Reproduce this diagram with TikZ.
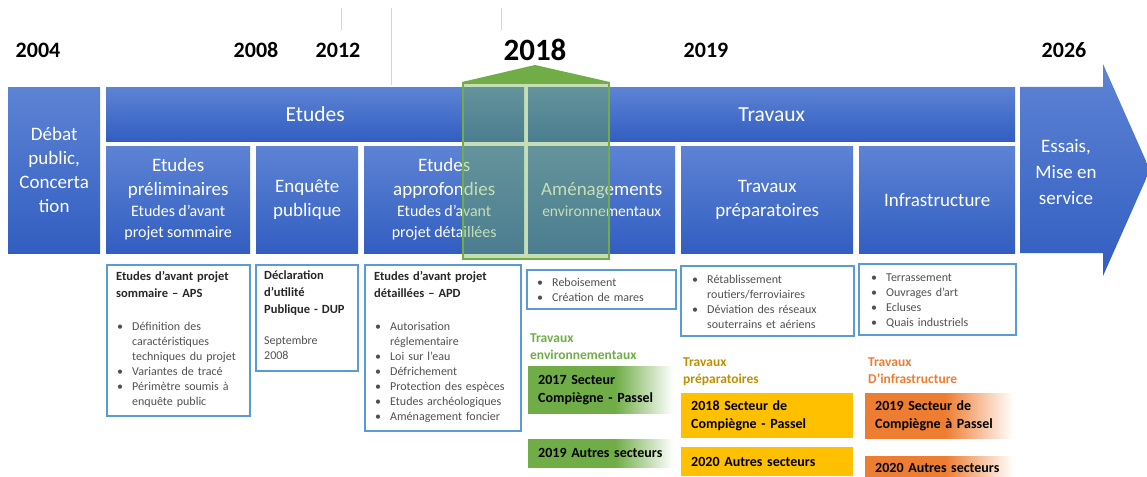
\documentclass[tikz,border=0pt]{standalone}
\usepackage{fontspec}
\setmainfont{Carlito}
\usepackage{tikz}
\usetikzlibrary{positioning}

\definecolor{bartop}{RGB}{93,131,212}
\definecolor{barbot}{RGB}{50,94,193}
\definecolor{frameblue}{RGB}{91,155,213}
\definecolor{vert}{RGB}{112,173,71}
\definecolor{jaune}{RGB}{255,192,0}
\definecolor{ocre}{RGB}{191,143,0}
\definecolor{orangefonce}{RGB}{237,125,49}
\definecolor{texte}{RGB}{80,80,80}
\definecolor{titre}{RGB}{38,38,38}
\definecolor{lignebleue}{RGB}{200,215,238}

% degrades des blocs de travaux
\pgfdeclarehorizontalshading{fondu-vert}{100bp}{color(0bp)=(vert); color(25bp)=(vert); color(55bp)=(vert); color(75bp)=(white); color(100bp)=(white)}
\pgfdeclarehorizontalshading{fondu-orange}{100bp}{color(0bp)=(orangefonce); color(25bp)=(orangefonce); color(52bp)=(orangefonce); color(75bp)=(white); color(100bp)=(white)}

\newcommand{\sz}[2]{\fontsize{#1pt}{#2pt}\selectfont}
\newcommand{\entete}[1]{{\bfseries\color{titre}\sz{12.5}{17}#1\par}}
\newcommand{\puce}[1]{\hangindent=16pt\hangafter=1\noindent\hbox to 16pt{\hspace{1pt}\textbullet\hfil}#1\par}

\begin{document}
\begin{tikzpicture}[x=1pt, y=-1pt,
    annee/.style={font=\bfseries\sz{22}{26}},
    bleu/.style={anchor=north west, inner sep=0pt, align=center, text=white,
      top color=bartop, bottom color=barbot},
    cadre/.style={anchor=north west, draw=frameblue, line width=1.5pt, inner sep=0pt},
    liste/.style={inner sep=0pt, align=left, text=texte, font=\sz{12}{15}},
    etiquette/.style={anchor=north west, inner sep=0pt, align=left, font=\bfseries\sz{13.5}{17}},
    bloc/.style={anchor=north west, inner xsep=10pt, inner ysep=0pt, align=left,
      font=\bfseries\sz{14}{18}},
    trait/.style={draw=lignebleue, line width=0.8pt}]
    \useasboundingbox (0,0) rectangle (1147,476);

    % annees
    \foreach \x/\an in {38/2004, 256/2008, 338/2012, 706/2019, 1064/2026} {
        \node[annee] (an\an) at (\x,50) {\an};
    };
    \node[font=\bfseries\sz{31}{34}] (an2018) at (535,50) {2018};
    \foreach \x/\y in {341/30, 391/85, 501/30} {
        \draw[trait] (\x,8) -- (\x,\y);
    };

    % frise
    \node[bleu, text width=92pt, minimum height=166pt, font=\sz{19}{24}] (debat) at (8,87)
        {Débat\\public,\\Concerta\\tion};
    \node[bleu, text width=418pt, minimum height=54pt, font=\sz{21.5}{24}] (etudes) at (106,87) {Etudes};
    \node[bleu, text width=487pt, minimum height=54pt, font=\sz{21.5}{24}] (travaux) at (528,87) {Travaux};

    \node[bleu, text width=144pt, minimum height=107pt] (prelim) at (106,146)
        {{\sz{19}{24}Etudes\\préliminaires\par}{\sz{16}{21}Etudes d’avant\\projet sommaire\par}};
    \node[bleu, text width=102pt, minimum height=107pt, font=\sz{19}{24}] (enquete) at (256,146)
        {Enquête\\publique};
    \node[bleu, text width=160pt, minimum height=107pt] (approf) at (364,146)
        {{\sz{19}{24}Etudes\\approfondies\par}{\sz{16}{21}Etudes d’avant\\projet détaillées\par}};
    \node[bleu, text width=147pt, minimum height=107pt] (amenag) at (528,146)
        {{\sz{19}{22}Aménagements\par}{\sz{15.5}{21}environnementaux\par}};
    \node[bleu, text width=172pt, minimum height=107pt, font=\sz{19}{24}] (prepa) at (681,146)
        {Travaux\\préparatoires};
    \node[bleu, text width=156pt, minimum height=107pt, font=\sz{19}{24}] (infra) at (859,146)
        {Infrastructure};

    \shade[top color=bartop, bottom color=barbot] (1020,87) -- (1103,87) -- (1103,64)
        -- (1150,170) -- (1103,276) -- (1103,253) -- (1020,253) -- cycle;
    \node[text=white, align=center, font=\sz{19}{26}] (essais) at (1066,172) {Essais,\\Mise en\\service};

    % zoom sur 2018
    \node[anchor=north west, draw=vert, line width=1.8pt, fill=vert, fill opacity=0.4,
        minimum width=146pt, minimum height=176pt, inner sep=0pt] (focus) at (462,82) {};
    \fill[vert] (focus.north west) -- (an2018.south |- 0,65) -- (focus.north east) -- cycle;

    % details des etapes
    \node[cadre, minimum width=143pt, minimum height=151pt] (aps) at (106,264) {};
    \node[liste, text width=123pt, below right=7pt and 10pt of aps.north west] (aps-texte) {
        \entete{Etudes d’avant projet\\sommaire – APS}\vspace{18pt}
        \puce{Définition des\newline caractéristiques\newline techniques du projet}
        \puce{Variantes de tracé}
        \puce{Périmètre soumis à\newline enquête public}};

    \node[cadre, minimum width=102pt, minimum height=106pt] (dup) at (255,264) {};
    \node[liste, text width=85pt, below right=7pt and 9pt of dup.north west] (dup-texte) {
        \entete{Déclaration\\d’utilité\\Publique - DUP}\vspace{16pt}
        Septembre\\2008\par};

    \node[cadre, minimum width=156pt, minimum height=166pt] (apd) at (364,264) {};
    \node[liste, text width=140pt, below right=7pt and 10pt of apd.north west] (apd-texte) {
        \entete{Etudes d’avant projet\\détaillées – APD}\vspace{18pt}
        \puce{Autorisation\newline réglementaire}
        \puce{Loi sur l’eau}
        \puce{Défrichement}
        \puce{Protection des espèces}
        \puce{Etudes archéologiques}
        \puce{Aménagement foncier}};

    \node[cadre, minimum width=149pt, minimum height=39pt] (rebois) at (526,269) {};
    \node[liste, text width=130pt, below right=9pt and 10pt of rebois.north west] (rebois-texte) {
        \puce{Reboisement}
        \puce{Création de mares}};

    \node[cadre, minimum width=173pt, minimum height=70pt] (retab) at (680,265) {};
    \node[liste, text width=155pt, below right=10pt and 11pt of retab.north west] (retab-texte) {
        \puce{Rétablissement\newline routiers/ferroviaires}
        \puce{Déviation des réseaux\newline souterrains et aériens}};

    \node[cadre, minimum width=157pt, minimum height=71pt] (terrass) at (858,263) {};
    \node[liste, text width=140pt, below right=11pt and 12pt of terrass.north west] (terrass-texte) {
        \puce{Terrassement}
        \puce{Ouvrages d’art}
        \puce{Ecluses}
        \puce{Quais industriels}};

    % calendrier des travaux
    \node[etiquette, text=vert] (lbl-env) at (530,334) {Travaux\\environnementaux};
    \node[etiquette, text=ocre] (lbl-prepa) at (683,358) {Travaux\\préparatoires};
    \node[etiquette, text=orangefonce] (lbl-infra) at (868,358) {Travaux\\D’infrastructure};

    \node[bloc, shade, shading=fondu-vert, text width=125pt, minimum height=47pt] (env-2017) at (528,366)
        {2017 Secteur\\Compiègne - Passel};
    \node[bloc, shade, shading=fondu-vert, text width=125pt, minimum height=28pt] (env-2019) at (528,439)
        {2019 Autres secteurs};
    \node[bloc, fill=jaune, text width=152pt, minimum height=45pt] (prepa-2018) at (681,393)
        {2018 Secteur de\\Compiègne - Passel};
    \node[bloc, fill=jaune, text width=152pt, minimum height=29pt] (prepa-2020) at (681,447)
        {2020 Autres secteurs};
    \node[bloc, shade, shading=fondu-orange, text width=128pt, minimum height=45pt] (infra-2019) at (865,393)
        {2019 Secteur de\\Compiègne à Passel};
    \node[bloc, shade, shading=fondu-orange, text width=128pt, minimum height=24pt] (infra-2020) at (865,456)
        {2020 Autres secteurs};
\end{tikzpicture}
\end{document}
